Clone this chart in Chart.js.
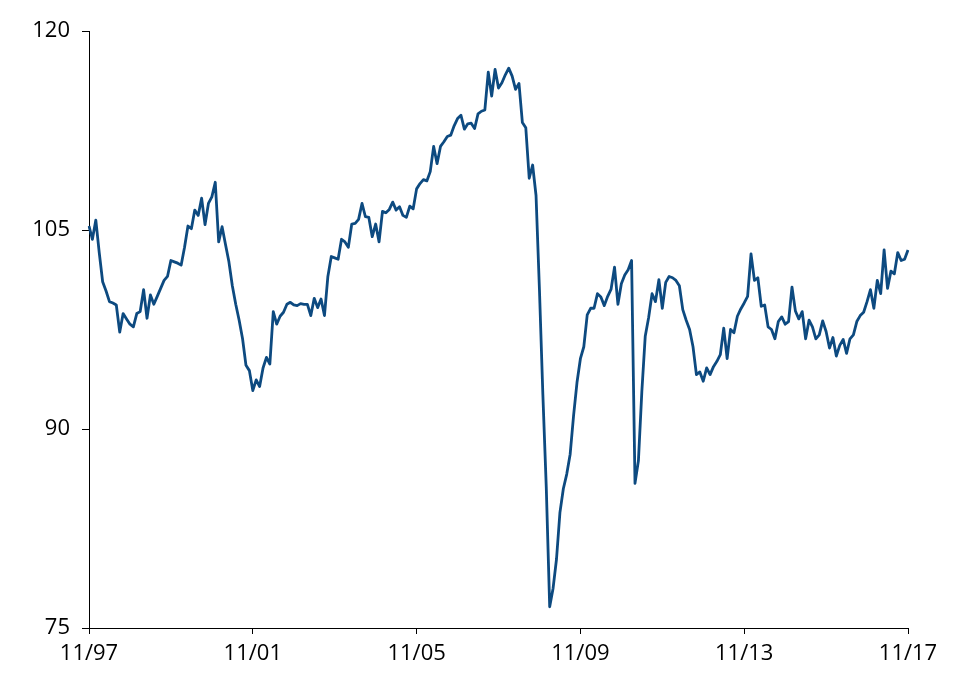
<!DOCTYPE html>
<html>
<head>
<meta charset="utf-8">
<script src="https://cdn.jsdelivr.net/npm/chart.js@4"></script>
<style>
  html, body { margin: 0; padding: 0; background: #ffffff; }
  #wrap { width: 967px; height: 689px; position: relative; }
</style>
</head>
<body>
<div id="wrap"><canvas id="c" width="967" height="689"></canvas></div>
<script>
// ---- Data ----
const startYear = 1997;
const startMonth = 11; // November
const categories = [];
for (let i = 0; i <= 240; i++) {
  const m = ((startMonth - 1 + i) % 12) + 1;
  const y = startYear + Math.floor((startMonth - 1 + i) / 12);
  categories.push(String(m).padStart(2, '0') + '/' + String(y % 100).padStart(2, '0'));
}
const tickLabels = ["11/97", "11/01", "11/05", "11/09", "11/13", "11/17"];
const yTicks = [75, 90, 105, 120];

const indexValues = [
  105.3, 104.3, 105.75, 103.3, 101.1, 100.4, 99.6, 99.5, 99.35, 97.3,
  98.7, 98.3, 97.9, 97.7, 98.7, 98.85, 100.5, 98.35, 100.1, 99.4,
  100.0, 100.6, 101.2, 101.5, 102.7, 102.6, 102.5, 102.35, 103.7, 105.3,
  105.1, 106.5, 106.1, 107.4, 105.4, 107.0, 107.5, 108.6, 104.1, 105.25,
  103.9, 102.6, 100.8, 99.4, 98.2, 96.8, 94.8, 94.4, 92.9,
  93.7, 93.2, 94.6, 95.4, 94.9, 98.85, 97.9, 98.5, 98.8, 99.4,
  99.55, 99.35, 99.3, 99.45, 99.4, 99.4, 98.55, 99.85, 99.15, 99.8,
  98.55, 101.5, 103.0, 102.9, 102.8, 104.3, 104.1, 103.7, 105.45, 105.5,
  105.8, 107.0, 106.0, 105.95, 104.5, 105.45, 104.1, 106.4, 106.3, 106.55,
  107.1, 106.5, 106.75, 106.1, 105.95, 106.8, 106.6, 108.1, 108.5,
  108.8, 108.7, 109.4, 111.3, 110.0, 111.3, 111.65, 112.05, 112.15, 112.85,
  113.4, 113.65, 112.6, 113.0, 113.05, 112.65, 113.75, 113.95, 114.05, 116.9,
  115.1, 117.1, 115.7, 116.1, 116.7, 117.2, 116.6, 115.6, 116.05, 113.1,
  112.7, 108.9, 109.9, 107.6,
  100.5, 92.6, 85.6, 76.6, 78.0, 80.2, 83.7, 85.5, 86.6, 88.1,
  91.0, 93.5, 95.3, 96.2, 98.6, 99.1,
  99.1, 100.2, 99.95, 99.3, 100.0, 100.55, 102.2, 99.4, 100.95, 101.6,
  102.0, 102.7, 85.9, 87.6, 92.8, 97.0, 98.4, 100.2, 99.6, 101.25,
  99.1, 101.05, 101.5, 101.4, 101.2, 100.8, 99.0, 98.2, 97.5, 96.2,
  94.1, 94.3, 93.6, 94.6, 94.1, 94.7, 95.1, 95.6, 97.6, 95.3,
  97.5, 97.25, 98.5, 99.05, 99.5, 100.0, 103.2, 101.2, 101.4, 99.25,
  99.35, 97.7, 97.5, 96.8, 98.1, 98.45, 97.9, 98.1, 100.7, 98.9,
  98.3, 98.85, 96.8, 98.2, 97.7, 96.8, 97.1, 98.15, 97.35, 96.1,
  96.9, 95.5, 96.3, 96.75, 95.7, 96.8, 97.1, 98.1, 98.55, 98.8,
  99.6, 100.5, 99.1, 101.2, 100.2, 103.5, 100.6, 101.9, 101.7, 103.3,
  102.7, 102.8, 103.5
];

// ---- Chart ----
const FONT = { family: "'Open Sans', 'DejaVu Sans', sans-serif", size: 22 };

new Chart(document.getElementById('c'), {
  type: 'line',
  data: {
    labels: categories,
    datasets: [{
      data: indexValues,
      borderColor: '#0d4a80',
      borderWidth: 2.8,
      pointRadius: 0,
      tension: 0,
      borderJoinStyle: 'round',
      fill: false
    }]
  },
  options: {
    responsive: false,
    animation: false,
    devicePixelRatio: 1,
    layout: { padding: { left: 0, top: 31, right: 59, bottom: 0 } },
    plugins: { legend: { display: false }, tooltip: { enabled: false } },
    scales: {
      x: {
        type: 'category',
        offset: false,
        grid: { drawOnChartArea: false, drawTicks: true, tickLength: 6, color: '#000', tickColor: '#000', lineWidth: 1 },
        border: { display: true, color: '#000', width: 1 },
        ticks: {
          autoSkip: false,
          maxRotation: 0,
          minRotation: 0,
          padding: 7,
          color: '#000',
          font: FONT,
          callback: function (val, idx) {
            const lab = categories[idx];
            return tickLabels.includes(lab) ? lab : null;
          }
        },
        afterFit: function (scale) { scale.height = 61; }
      },
      y: {
        min: 75,
        max: 120,
        afterBuildTicks: function (scale) { scale.ticks = yTicks.map(v => ({ value: v })); },
        grid: { drawOnChartArea: false, drawTicks: true, tickLength: 7, color: '#000', tickColor: '#000', lineWidth: 1 },
        border: { display: true, color: '#000', width: 1 },
        ticks: { padding: 12, color: '#000', font: FONT },
        afterFit: function (scale) { scale.width = 89; }
      }
    }
  }
});
</script>
</body>
</html>
